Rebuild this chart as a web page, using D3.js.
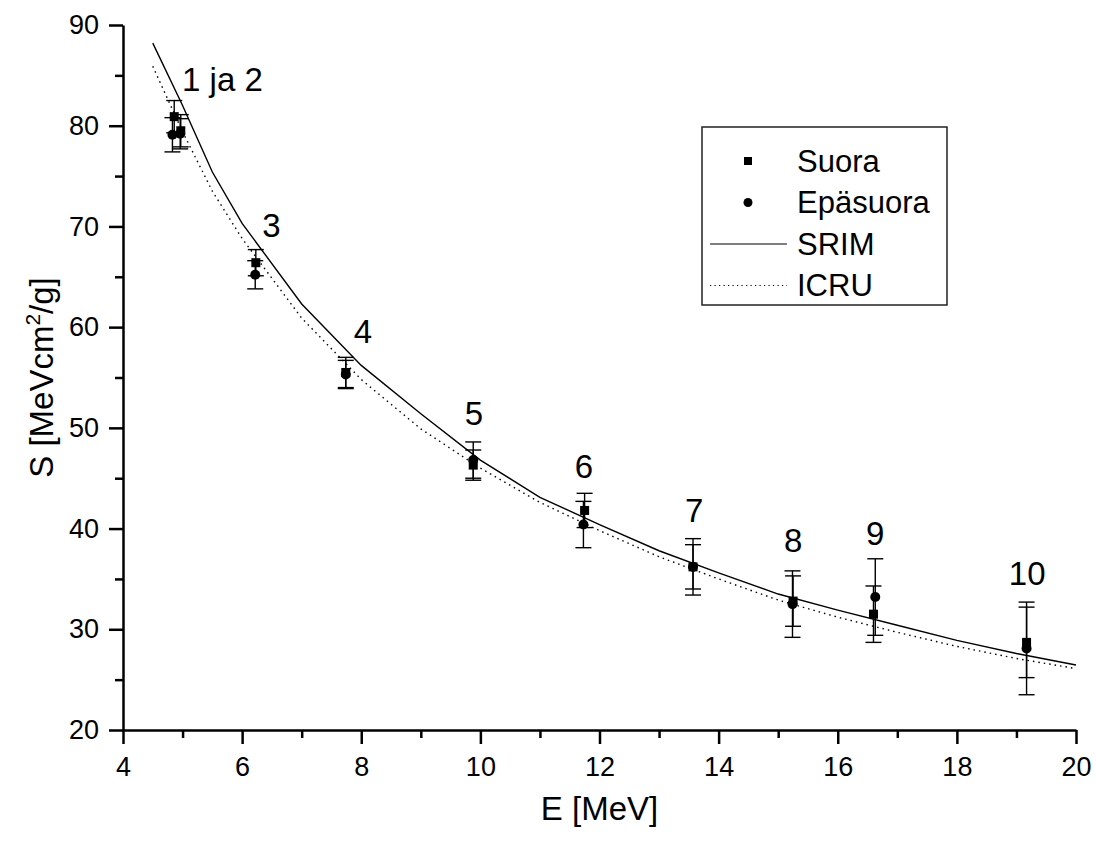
<!DOCTYPE html>
<meta charset="utf-8">
<style>
body { margin: 0; background: #fff; }
svg { font-family: "Liberation Sans", Arial, sans-serif; }
.axis path, .axis line { stroke: #000; stroke-width: 2.5px; }
.axis text { font-size: 27px; fill: #000; }
.err { stroke: #000; stroke-width: 1.4px; }
.curve { fill: none; stroke: #000; stroke-width: 1.4px; }
</style>
<body>
<script src="https://d3js.org/d3.v7.min.js"></script>
<script>

// measured points (Suora = direct, Epäsuora = indirect)
var suoraE   = [4.86, 4.97, 6.23, 7.74, 9.88, 11.75, 13.57, 15.25, 16.60, 19.17];
var suoraS   = [80.9, 79.5, 66.4, 55.5, 46.3, 41.8, 36.2, 32.8, 31.5, 28.7];
var suoraErr = [1.6, 1.6, 1.3, 1.5, 1.5, 1.7, 2.2, 2.5, 2.8, 3.5];

var epaE   = [4.83, 4.96, 6.22, 7.74, 9.88, 11.73, 13.57, 15.24, 16.63, 19.17];
var epaS   = [79.1, 79.2, 65.2, 55.3, 46.8, 40.4, 36.2, 32.5, 33.2, 28.1];
var epaErr = [1.7, 1.5, 1.4, 1.4, 1.8, 2.3, 2.8, 3.3, 3.8, 4.6];

// reference curves
var curveE = [4.5, 5, 5.5, 6, 7, 8, 9, 10, 11, 12, 13, 14, 15, 16, 17, 18, 19, 20];
var srimS  = [88.2, 82.0, 75.4, 70.3, 62.3, 56.2, 51.4, 46.8, 43.1, 40.4, 37.8, 35.6, 33.5, 31.9, 30.4, 28.9, 27.6, 26.45];
var icruS  = [85.9, 79.4, 73.5, 68.8, 60.9, 54.8, 49.9, 46.0, 42.6, 39.8, 37.2, 35.0, 32.9, 31.2, 29.7, 28.3, 27.1, 26.1];

// point labels (anchored at E, S)
var labelText = ["1 ja 2", "3", "4", "5", "6", "7", "8", "9", "10"];
var labelE = [5.67, 6.49, 8.03, 9.89, 11.74, 13.59, 15.25, 16.63, 19.18];
var labelS = [83.4, 69.0, 58.4, 50.3, 45.0, 40.7, 37.7, 38.4, 34.4];

var xTicks = [4, 6, 8, 10, 12, 14, 16, 18, 20];
var xMinor = [5, 7, 9, 11, 13, 15, 17, 19];
var yTicks = [20, 30, 40, 50, 60, 70, 80, 90];
var yMinor = [25, 35, 45, 55, 65, 75, 85];

var margin = {top: 25, right: 21, bottom: 112, left: 123},
    width = 1097 - margin.left - margin.right,
    height = 842 - margin.top - margin.bottom;

var x = d3.scaleLinear().domain([4, 20]).range([0, width]);
var y = d3.scaleLinear().domain([20, 90]).range([height, 0]);

var svg = d3.select("body").append("svg")
    .attr("width", 1097)
    .attr("height", 842)
  .append("g")
    .attr("transform", "translate(" + margin.left + "," + margin.top + ")");

// minor ticks first, then main axes on top
svg.append("g").attr("class", "axis")
    .attr("transform", "translate(0," + height + ")")
    .call(d3.axisBottom(x).tickValues(xMinor).tickSize(8).tickFormat(""))
    .call(function(g) { g.select(".domain").remove(); });
svg.append("g").attr("class", "axis")
    .call(d3.axisLeft(y).tickValues(yMinor).tickSize(8).tickFormat(""))
    .call(function(g) { g.select(".domain").remove(); });

svg.append("g").attr("class", "axis")
    .attr("transform", "translate(0," + height + ")")
    .call(d3.axisBottom(x).tickValues(xTicks).tickSize(14).tickSizeOuter(0).tickPadding(13).tickFormat(d3.format("d")));
svg.append("g").attr("class", "axis")
    .call(d3.axisLeft(y).tickValues(yTicks).tickSize(14).tickSizeOuter(0).tickPadding(10).tickFormat(d3.format("d")));

svg.selectAll(".axis text").attr("font-family", null);

// axis titles
svg.append("text")
    .attr("x", width / 2).attr("y", height + 90)
    .attr("text-anchor", "middle")
    .style("font-size", "33px")
    .text("E [MeV]");

var yt = svg.append("text")
    .attr("transform", "translate(-70," + (height / 2) + ") rotate(-90)")
    .attr("text-anchor", "middle")
    .style("font-size", "33px");
yt.append("tspan").text("S [MeVcm");
yt.append("tspan").attr("dy", -13).style("font-size", "21px").text("2");
yt.append("tspan").attr("dy", 13).text("/g]");

// curves
var line = d3.line()
    .x(function(d) { return x(d[0]); })
    .y(function(d) { return y(d[1]); });

svg.append("path")
    .attr("class", "curve")
    .attr("d", line(d3.zip(curveE, srimS)));
svg.append("path")
    .attr("class", "curve")
    .attr("stroke-dasharray", "1.5,4")
    .attr("d", line(d3.zip(curveE, icruS)));

// error bars
function errorBars(es, ss, errs) {
  var rows = d3.zip(es, ss, errs);
  var g = svg.append("g").attr("class", "err");
  g.selectAll(".v").data(rows).enter().append("line")
      .attr("x1", function(d) { return x(d[0]); })
      .attr("x2", function(d) { return x(d[0]); })
      .attr("y1", function(d) { return y(d[1] - d[2]); })
      .attr("y2", function(d) { return y(d[1] + d[2]); });
  [-1, 1].forEach(function(s) {
    g.selectAll(".c" + s).data(rows).enter().append("line")
        .attr("x1", function(d) { return x(d[0]) - 8; })
        .attr("x2", function(d) { return x(d[0]) + 8; })
        .attr("y1", function(d) { return y(d[1] + s * d[2]); })
        .attr("y2", function(d) { return y(d[1] + s * d[2]); });
  });
}
errorBars(suoraE, suoraS, suoraErr);
errorBars(epaE, epaS, epaErr);

// markers
svg.selectAll(".sq").data(d3.zip(suoraE, suoraS)).enter().append("rect")
    .attr("x", function(d) { return x(d[0]) - 4.5; })
    .attr("y", function(d) { return y(d[1]) - 4.5; })
    .attr("width", 9).attr("height", 9)
    .attr("fill", "#000");
svg.selectAll(".ci").data(d3.zip(epaE, epaS)).enter().append("circle")
    .attr("cx", function(d) { return x(d[0]); })
    .attr("cy", function(d) { return y(d[1]); })
    .attr("r", 5)
    .attr("fill", "#000");

// point labels
svg.selectAll(".lbl").data(d3.zip(labelText, labelE, labelS)).enter().append("text")
    .attr("x", function(d) { return x(d[1]); })
    .attr("y", function(d) { return y(d[2]); })
    .attr("text-anchor", "middle")
    .style("font-size", "33px")
    .text(function(d) { return d[0]; });

// legend
var lg = svg.append("g").attr("transform", "translate(" + (702 - margin.left) + "," + (127 - margin.top) + ")");
lg.append("rect")
    .attr("width", 245).attr("height", 178)
    .attr("fill", "#fff").attr("stroke", "#222").attr("stroke-width", 1.5);
var items = ["Suora", "Epäsuora", "SRIM", "ICRU"];
items.forEach(function(name, i) {
  var cy = 34 + i * 41.5;
  if (i === 0) lg.append("rect").attr("x", 42).attr("y", cy - 4).attr("width", 8).attr("height", 8).attr("fill", "#000");
  if (i === 1) lg.append("circle").attr("cx", 46).attr("cy", cy).attr("r", 4.5).attr("fill", "#000");
  if (i === 2) lg.append("line").attr("x1", 8).attr("x2", 85).attr("y1", cy).attr("y2", cy)
      .attr("stroke", "#000").attr("stroke-width", 1.2);
  if (i === 3) lg.append("line").attr("x1", 8).attr("x2", 85).attr("y1", cy).attr("y2", cy)
      .attr("stroke", "#000").attr("stroke-width", 1.2).attr("stroke-dasharray", "1.2,3.3");
  lg.append("text")
      .attr("x", 95).attr("y", cy + 10.5)
      .style("font-size", "31px")
      .text(name);
});

</script>
</body>
